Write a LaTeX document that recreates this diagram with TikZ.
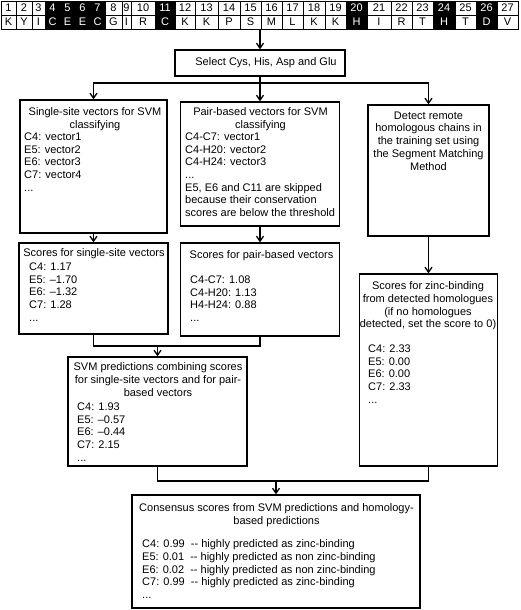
\documentclass[tikz,border=0pt]{standalone}
\usepackage{fontspec}
\setmainfont{Liberation Sans}
\usetikzlibrary{arrows.meta,calc}
\newcommand{\boxfont}{\fontsize{11}{12.7}\selectfont}

\begin{document}
\begin{tikzpicture}[x=1pt,y=-1pt,
    box/.style={draw,line width=1.4pt,inner sep=0pt},
    txt/.style={inner sep=0pt,font=\boxfont},
    cell/.style={draw,line width=0.7pt,inner sep=0pt,minimum height=14pt,font=\boxfont},
    arr/.style={line width=1.3pt,-{Straight Barb[length=5pt,width=7pt]}},
    link/.style={line width=1.3pt}]
    \useasboundingbox (0,0) rectangle (520,610);
    \foreach \i/\a/\b/\aa/\k in {1/1/16/K/0,2/16/32/Y/0,3/32/45/I/0,4/45/60/C/1,5/60/75/E/1,6/75/90/E/1,7/90/105/C/1,8/105/122/G/0,9/122/131/I/0,10/131/155/R/0,11/155/175/C/1,12/175/195/K/0,13/195/218/K/0,14/218/240/P/0,15/240/261/S/0,16/261/282/M/0,17/282/303/L/0,18/303/325/K/0,19/325/346/K/0,20/346/367/H/1,21/367/391/I/0,22/391/412/R/0,23/412/433/T/0,24/433/455/H/1,25/455/476/T/0,26/476/497/D/1,27/497/518/V/0}{
        \pgfmathsetmacro{\w}{\b-\a}
        \pgfmathsetmacro{\c}{(\a+\b)/2}
        \ifnum\k=1 \def\fc{black}\def\tc{white}\else\def\fc{white}\def\tc{black}\fi
        \node[cell,fill=\fc,text=\tc,minimum width=\w pt] (num\i) at (\c,8) {\i};
        \node[cell,fill=\fc,text=\tc,minimum width=\w pt] (res\i) at (\c,22) {\aa};
    }
    \node[box,minimum width=170pt,minimum height=26pt,font=\boxfont] (sel) at (260,63) {\hspace{12pt}Select Cys, His, Asp and Glu};
    \node[box,minimum width=147pt,minimum height=133pt] (sv) at (93.5,166.5) {};
    \node[box,minimum width=159pt,minimum height=124pt] (pv) at (260,164) {};
    \node[box,minimum width=121pt,minimum height=131pt] (hom) at (428.5,170.5) {};
    \node[box,minimum width=149pt,minimum height=91pt] (ss) at (93.5,288.5) {};
    \node[box,minimum width=159pt,minimum height=93pt] (ps) at (260,289.5) {};
    \node[box,minimum width=138pt,minimum height=192pt] (hs) at (428.5,370) {};
    \node[box,minimum width=179pt,minimum height=109pt] (svm) at (157.5,411.5) {};
    \node[box,minimum width=288pt,minimum height=113pt] (cons) at (276,551.5) {};

    \node[txt,anchor=north,align=center] (svtitle) at (95,107.5) {Single-site vectors for SVM\\classifying};
    \node[txt,anchor=north west,align=left] (svlist) at (24,132.5) {C4: vector1\\E5: vector2\\E6: vector3\\C7: vector4\\...};
    \node[txt,anchor=north,align=center] (pvtitle) at (260.5,107.5) {Pair-based vectors for SVM\\classifying};
    \node[txt,anchor=north west,align=left] (pvlist) at (185,132.5) {C4-C7: vector1\\C4-H20: vector2\\C4-H24: vector3\\...\\E5, E6 and C11 are skipped\\because their conservation\\scores are below the threshold};
    \node[txt,anchor=north,align=center] (homtitle) at (428.5,111.5) {Detect remote\\homologous chains in\\the training set using\\the Segment Matching\\Method};
    \node[txt,anchor=north] (sstitle) at (94,248.5) {Scores for single-site vectors};
    \node[txt,anchor=north west,align=left] (sslist) at (29,262.5) {C4: 1.17\\E5: --1.70\\E6: --1.32\\C7: 1.28\\...};
    \node[txt,anchor=north] (pstitle) at (261.5,250.5) {Scores for pair-based vectors};
    \node[txt,anchor=north west,align=left] (pslist) at (190,275.5) {C4-C7: 1.08\\C4-H20: 1.13\\H4-H24: 0.88\\...};
    \node[txt,anchor=north,align=center] (hstitle) at (428,281.5) {Scores for zinc-binding\\from detected homologues\\(if no homologues\\detected, set the score to 0)};
    \node[txt,anchor=north west,align=left] (hslist) at (368,344.5) {C4: 2.33\\E5: 0.00\\E6: 0.00\\C7: 2.33\\...};
    \node[txt,anchor=north,align=center] (svmtitle) at (158,362.5) {SVM predictions combining scores\\for single-site vectors and for pair-\\based vectors};
    \node[txt,anchor=north west,align=left] (svmlist) at (77,402.5) {C4: 1.93\\E5: --0.57\\E6: --0.44\\C7: 2.15\\...};
    \node[txt,anchor=north,align=center] (constitle) at (276.5,503.5) {Consensus scores from SVM predictions and homology-\\based predictions};
    \node[txt,anchor=north west,align=left] (conslist) at (142,539.5) {C4: 0.99\ \ -{}- highly predicted as zinc-binding\\E5: 0.01\ \ -{}- highly predicted as non zinc-binding\\E6: 0.02\ \ -{}- highly predicted as non zinc-binding\\C7: 0.99\ \ -{}- highly predicted as zinc-binding\\...};

    \coordinate (split) at (260,83);
    \coordinate (join1) at (157.5,346);
    \coordinate (join2) at (276,481);
    \draw[arr] (sel.north |- res15.south) -- (sel.north);
    \draw[link] (sel.south) -- (split);
    \draw[arr] (split) -| (sv.north);
    \draw[arr] (split) -- (pv.north);
    \draw[arr] (split) -| (hom.north);
    \draw[arr] (sv.south) -- (ss.north);
    \draw[arr] (pv.south) -- (ps.north);
    \draw[arr] (hom.south) -- (hs.north);
    \draw[link] (ss.south) |- (join1) -| (ps.south);
    \draw[arr] (join1) -- (svm.north);
    \draw[link] (svm.south) |- (join2) -| (hs.south);
    \draw[arr] (join2) -- (cons.north);
\end{tikzpicture}
\end{document}
